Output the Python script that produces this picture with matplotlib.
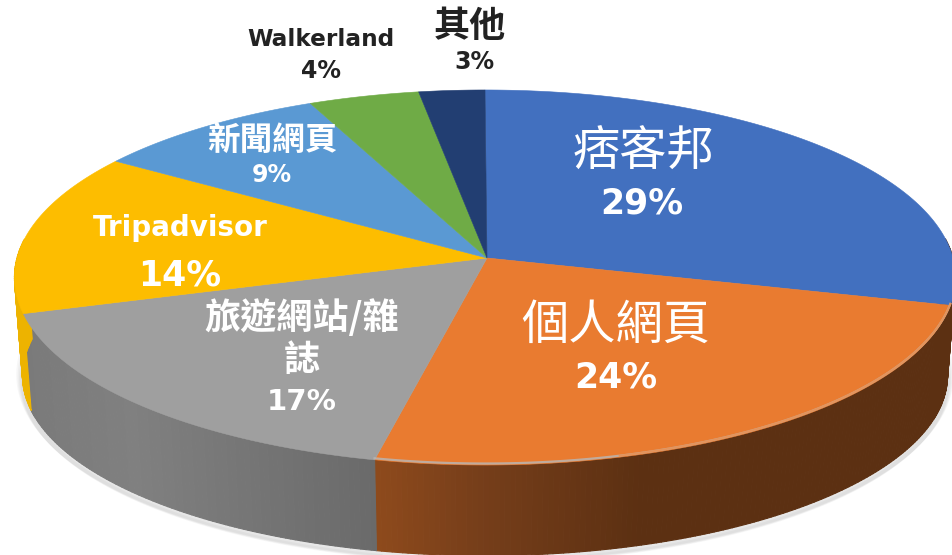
import numpy as np
import matplotlib
matplotlib.use("Agg")
from matplotlib import pyplot as plt
from matplotlib.collections import PolyCollection

plt.rcParams['font.family'] = ['Noto Sans CJK TC', 'DejaVu Sans']

# Share of each source, clockwise from twelve o'clock
categories = ['痞客邦', '個人網頁', '旅遊網站/雜\n誌', 'Tripadvisor', '新聞網頁', 'Walkerland', '其他']
values = [29.0, 24.4, 16.9, 14.0, 9.0, 4.2, 2.5]
percent_labels = ['29%', '24%', '17%', '14%', '9%', '4%', '3%']

colors = ['#4270BF', '#E97B30', '#9F9F9F', '#FDBD00', '#5A99D3', '#6FAB46', '#223E72']


def project(theta, hub_y, a, b, k=0.104):
    # circle to screen pixels, with the far side smaller
    x = np.sin(theta)
    y = np.cos(theta)
    w = 1 + k * y
    return 485 + a * x / w, hub_y - b * y / w


def top_rim(theta):
    return project(theta, 258, 468, 185.5)


def bottom_rim(theta):
    return project(theta, 357, 460, 178)


def wall_color(i, x):
    # the first slice only shows a sliver at the far right, same brown there
    if i <= 1:
        r = np.interp(x, [375, 480, 640], [142, 118, 92])
        g = np.interp(x, [375, 480, 640], [74, 62, 48])
        b = np.interp(x, [375, 480, 640], [28, 26, 18])
        return (r / 255, g / 255, b / 255)
    if i == 2:
        v = np.interp(x, [20, 130, 375], [122, 128, 106]) / 255
        return (v, v, v)
    if i == 3:
        return (0.93, 0.70, 0.0)
    base = matplotlib.colors.to_rgb(colors[i])
    return tuple(c * 0.6 for c in base)


fig = plt.figure(figsize=(9.53, 5.55), dpi=100)
ax = fig.add_axes([0, 0, 1, 1])
ax.set_xlim(0, 953)
ax.set_ylim(555, 0)
ax.axis('off')

edges = np.radians(np.concatenate([[0], np.cumsum(values)]) * 3.6)

# soft shadow under the lower rim
arc = np.linspace(np.radians(75), np.radians(285), 300)
sx, sy = bottom_rim(arc)
for off, lw in zip([2, 4, 6, 8], [9, 7, 5, 3]):
    ax.plot(sx, sy + off - 3, color='#000000', alpha=0.03, lw=lw, zorder=1)

# side wall, thin strips so the shading can change along it
polys = []
strip_colors = []
for i in range(len(values)):
    n = max(int(values[i] * 6), 4)
    t = np.linspace(edges[i], edges[i + 1], n + 1)
    x1, y1 = top_rim(t)
    x2, y2 = bottom_rim(t)
    for j in range(n):
        # back of the wall is hidden by the top face
        if np.cos(t[j]) > 0.1 and np.cos(t[j + 1]) > 0.1:
            continue
        polys.append([(x1[j], y1[j]), (x1[j + 1], y1[j + 1]),
                      (x2[j + 1], y2[j + 1]), (x2[j], y2[j])])
        strip_colors.append(wall_color(i, (x1[j] + x1[j + 1]) / 2))
ax.add_collection(PolyCollection(polys, facecolors=strip_colors, edgecolors=strip_colors,
                                 linewidths=0.8, zorder=2))

# top face
for i in range(len(values)):
    t = np.linspace(edges[i], edges[i + 1], 120)
    x, y = top_rim(t)
    ax.fill(np.r_[487, x], np.r_[258, y], color=colors[i], lw=0.4, zorder=3)

# lighter bevel along the front rim
t = np.linspace(edges[1], edges[2], 100)
x, y = top_rim(t)
ax.plot(x, y - 1.5, color='#B8B8B8', lw=1.6, alpha=0.8, zorder=4)
t = np.linspace(np.radians(165), edges[1], 60)
x, y = top_rim(t)
ax.plot(x, y - 1.5, color='#F58A3E', lw=1.4, alpha=0.7, zorder=4)

# labels
name_pos = [(643, 153), (616, 326), (302, 339), (180, 228), (272, 140), (321, 39), (470, 27)]
name_size = [34, 34, 26, 20, 23.5, 16.7, 26]
pct_pos = [(642, 204), (616, 378), (302, 402), (180, 275), (272, 175), (321, 71), (474, 62)]
pct_size = [25, 25, 21, 25, 17, 17, 17]
text_colors = ['white', 'white', 'white', 'white', 'white', '#222222', '#222222']
name_weight = ['normal', 'normal', 'bold', 'bold', 'bold', 'bold', 'bold']
name_family = ['Noto Sans CJK TC', 'Noto Sans CJK TC', 'Noto Sans CJK TC', 'DejaVu Sans',
               'Noto Sans CJK TC', 'DejaVu Sans', 'Noto Sans CJK TC']

for i in range(len(values)):
    ax.text(name_pos[i][0], name_pos[i][1], categories[i], color=text_colors[i],
            family=[name_family[i], 'DejaVu Sans'], fontsize=name_size[i],
            fontweight=name_weight[i], ha='center', va='center',
            linespacing=1.15, zorder=5)
    ax.text(pct_pos[i][0], pct_pos[i][1], percent_labels[i], color=text_colors[i],
            family='DejaVu Sans', fontsize=pct_size[i], fontweight='bold',
            ha='center', va='center', zorder=5)

fig.savefig("out.png", dpi=100)
